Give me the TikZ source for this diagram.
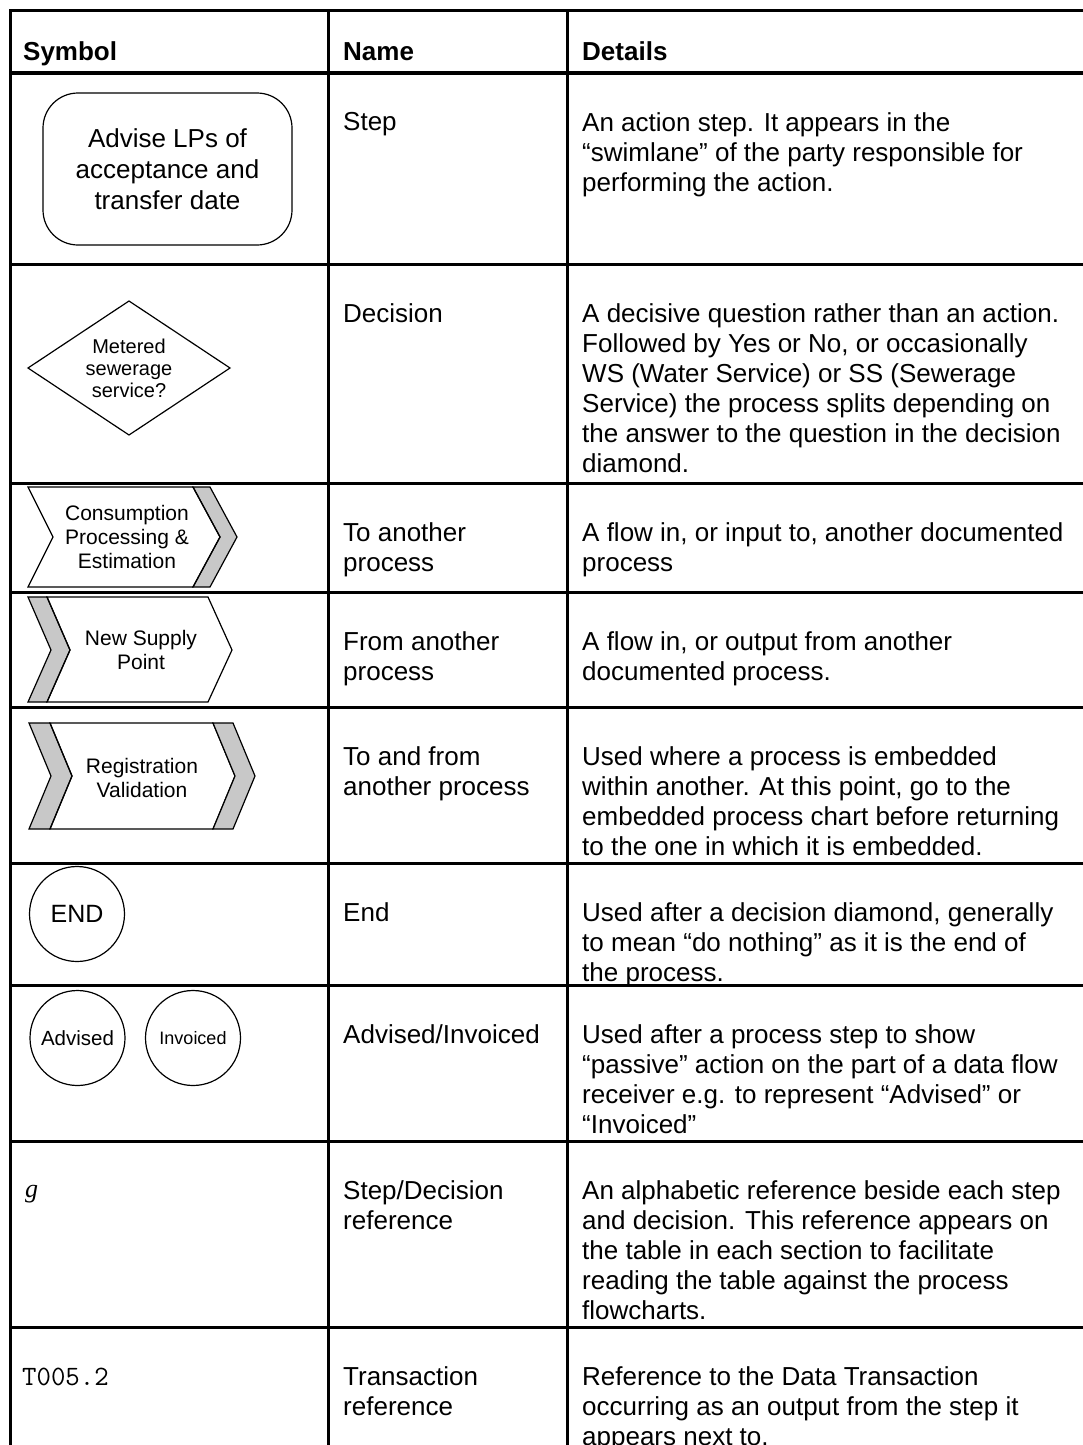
\documentclass[tikz,border=0pt]{standalone}
\usepackage{fontspec}
\setmainfont{Liberation Sans}
\newfontfamily\serifit{Liberation Serif}
\usepackage{xcolor}
\definecolor{bandgray}{RGB}{200,200,200}
\newcommand\cellfont{\fontsize{26}{30}\selectfont}
\newcommand\symfont{\fontsize{21}{24}\selectfont}

\begin{document}
\begin{tikzpicture}[x=1pt, y=-1pt,
    grid/.style={line width=3pt},
    cell/.style={anchor=north west, inner sep=0pt, align=left, font=\cellfont},
    head/.style={anchor=base west, inner sep=0pt, font=\cellfont\bfseries},
    symline/.style={line width=1.2pt},
    band/.style={symline, fill=bandgray},
    symtext/.style={align=center, inner sep=0pt, font=\symfont},
    stepbox/.style={draw, symline, rounded corners=35pt, minimum width=249pt, minimum height=152pt,
                    align=center, inner sep=0pt, font=\fontsize{26}{31}\selectfont},
    endmark/.style={draw, symline, circle, inner sep=0pt, minimum size=95pt}]
    \useasboundingbox (0,0) rectangle (1083,1445);
    % table rules
    \draw[grid] (1083,11) -- (10,11) -- (10,1445);
    \foreach \y in {73,264,483,592,707,863,985,1141,1327}
        \draw[grid] (10,\y) -- (1083,\y);
    \foreach \x in {328,567}
        \draw[grid] (\x,11) -- (\x,1445);
    % header
    \node[head] (hsym) at (23,61) {Symbol};
    \node[head] (hname) at (343,61) {Name};
    \node[head] (hdet) at (582,61) {Details};
    % step
    \node[stepbox] (stepsym) at (167.5,169) {Advise LPs of\\acceptance and\\transfer date};
    \node[cell] (nstep) at (343,112) {Step};
    \node[cell] (dstep) at (582,112) {An action step. It appears in the\\“swimlane” of the party responsible for\\performing the action.};
    % decision
    \draw[symline] (129,301) -- (230,368) -- (129,435) -- (28,368) -- cycle;
    \node[symtext, font=\fontsize{20}{22}\selectfont] (decsym) at (129,368) {Metered\\sewerage\\service?};
    \node[cell] (ndec) at (343,303) {Decision};
    \node[cell] (ddec) at (582,303) {A decisive question rather than an action.\\Followed by Yes or No, or occasionally\\WS (Water Service) or SS (Sewerage\\Service) the process splits depending on\\the answer to the question in the decision\\diamond.};
    % to another process
    \draw[band] (193,487) -- (210,487) -- (237,537) -- (210,587) -- (193,587) -- (220,537) -- cycle;
    \draw[symline] (28,487) -- (193,487) -- (220,537) -- (193,587) -- (28,587) -- (53,537) -- cycle;
    \node[symtext] (tosym) at (127,537) {Consumption\\Processing \&\\Estimation};
    \node[cell] (nto) at (343,522) {To another\\process};
    \node[cell] (dto) at (582,522) {A flow in, or input to, another documented\\process};
    % from another process
    \draw[band] (28,597) -- (47,597) -- (70,650) -- (47,702) -- (28,702) -- (51,650) -- cycle;
    \draw[symline] (47,597) -- (208,597) -- (232,650) -- (208,702) -- (47,702) -- (70,650) -- cycle;
    \node[symtext] (fromsym) at (141,650) {New Supply\\Point};
    \node[cell] (nfrom) at (343,631) {From another\\process};
    \node[cell] (dfrom) at (582,631) {A flow in, or output from another\\documented process.};
    % to and from
    \draw[band] (29,723) -- (50,723) -- (72,776) -- (50,829) -- (29,829) -- (51,776) -- cycle;
    \draw[symline] (50,723) -- (213,723) -- (235,776) -- (213,829) -- (50,829) -- (72,776) -- cycle;
    \draw[band] (213,723) -- (233,723) -- (255,776) -- (233,829) -- (213,829) -- (235,776) -- cycle;
    \node[symtext] (bothsym) at (142,778) {Registration\\Validation};
    \node[cell] (nboth) at (343,746) {To and from\\another process};
    \node[cell] (dboth) at (582,746) {Used where a process is embedded\\within another. At this point, go to the\\embedded process chart before returning\\to the one in which it is embedded.};
    % end
    \node[endmark, font=\fontsize{25}{25}\selectfont] (endsym) at (77,914) {END};
    \node[cell] (nend) at (343,902) {End};
    \node[cell] (dend) at (582,902) {Used after a decision diamond, generally\\to mean “do nothing” as it is the end of\\the process.};
    % advised / invoiced
    \node[endmark, font=\fontsize{20.5}{21}\selectfont] (advsym) at (77.5,1038) {Advised};
    \node[endmark, font=\fontsize{18}{18}\selectfont] (invsym) at (193,1038) {Invoiced};
    \node[cell] (nadv) at (343,1024) {Advised/Invoiced};
    \node[cell] (dadv) at (582,1024) {Used after a process step to show\\“passive” action on the part of a data flow\\receiver e.g. to represent “Advised” or\\“Invoiced”};
    % step/decision reference
    \node[anchor=base west, inner sep=0pt, font=\serifit\itshape\fontsize{26}{26}\selectfont] (gref) at (25,1197) {g};
    \node[cell] (nref) at (343,1180) {Step/Decision\\reference};
    \node[cell] (dref) at (582,1180) {An alphabetic reference beside each step\\and decision. This reference appears on\\the table in each section to facilitate\\reading the table against the process\\flowcharts.};
    % transaction reference
    \node[anchor=base west, inner sep=0pt, font=\ttfamily\fontsize{28}{28}\selectfont] (tref) at (22,1385) {T005.2};
    \node[cell] (ntrans) at (343,1366) {Transaction\\reference};
    \node[cell] (dtrans) at (582,1366) {Reference to the Data Transaction\\occurring as an output from the step it\\appears next to.};
\end{tikzpicture}
\end{document}
